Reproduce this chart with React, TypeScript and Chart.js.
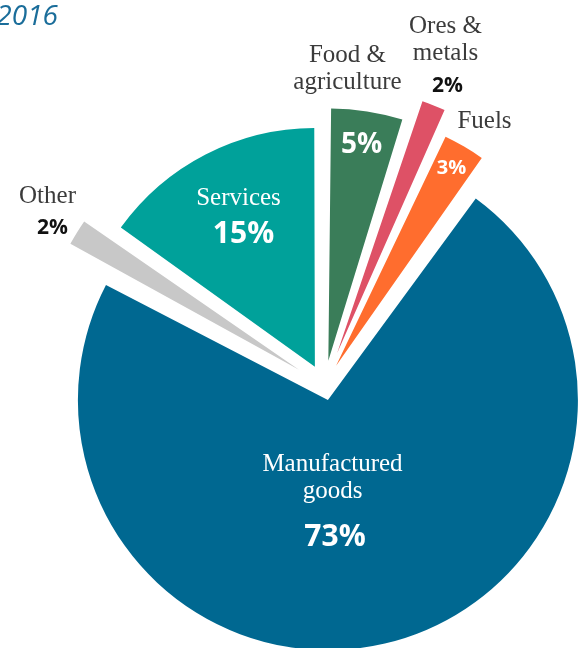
import React, { useEffect, useRef } from "react";
import { Chart, registerables } from "chart.js";

Chart.register(...registerables);

// ---- data ----
const title = "2016";
const categories = [
  "Food &\nagriculture",
  "Ores &\nmetals",
  "Fuels",
  "Manufactured\ngoods",
  "Other",
  "Services",
];
const shares = [4.9, 2.0, 3.0, 72.7, 2.1, 15.1];
const colors = ["#3a7d59", "#de5166", "#ff6d2e", "#006891", "#c8c8c8", "#00a19a"];
const explode = [100, 140, 92, 60, 120, 84];

// ---- label layout (relative to pie centre) ----
const DARK = "#3b3b3b";
const WHITE = "#ffffff";
const BLACK = "#111111";
const labelLayout = [
  { nx: 23, ny: -324, nameColor: DARK, px: 37, py: -233, pctColor: WHITE, pctSize: 28 },
  { nx: 121, ny: -353, nameColor: DARK, px: 123, py: -294, pctColor: BLACK, pctSize: 21 },
  { nx: 160, ny: -258, nameColor: DARK, px: 127, py: -212, pctColor: WHITE, pctSize: 20 },
  { nx: 8, ny: 85, nameColor: WHITE, px: 10.5, py: 160, pctColor: WHITE, pctSize: 30 },
  { nx: -277, ny: -183, nameColor: DARK, px: -272, py: -152, pctColor: BLACK, pctSize: 21 },
  { nx: -86, ny: -181, nameColor: WHITE, px: -81, py: -143, pctColor: WHITE, pctSize: 30 },
];

const SERIF = '"Liberation Serif", "Times New Roman", serif';
const SANS = '"Open Sans", "Noto Sans", sans-serif';

const labelPlugin = {
  id: "sliceLabels",
  afterDatasetsDraw(chart: any) {
    const ctx = chart.ctx as CanvasRenderingContext2D;
    const meta = chart.getDatasetMeta(0);
    if (!meta.data.length) return;
    const cx = meta.data[0].x;
    const cy = meta.data[0].y;
    ctx.save();
    ctx.textAlign = "center";
    ctx.textBaseline = "alphabetic";
    categories.forEach((name, i) => {
      const L = labelLayout[i];
      ctx.font = `25px ${SERIF}`;
      ctx.fillStyle = L.nameColor;
      name.split("\n").forEach((line, k) => {
        ctx.fillText(line, cx + L.nx, cy + L.ny + k * 27);
      });
      ctx.font = `bold ${L.pctSize}px ${SANS}`;
      ctx.fillStyle = L.pctColor;
      ctx.fillText(`${Math.round(shares[i])}%`, cx + L.px, cy + L.py);
    });
    // title
    ctx.textAlign = "right";
    ctx.font = `italic 28px ${SANS}`;
    ctx.fillStyle = "#1a6d9a";
    ctx.fillText(title, 58, 25);
    ctx.restore();
  },
};

export default function App() {
  const ref = useRef<HTMLCanvasElement | null>(null);
  useEffect(() => {
    if (!ref.current) return;
    const chart = new Chart(ref.current, {
      type: "pie",
      data: {
        labels: categories.map((c) => c.replace("\n", " ")),
        datasets: [
          {
            data: shares,
            backgroundColor: colors,
            borderWidth: 0,
            offset: explode,
            radius: 235,
            clip: false,
          } as any,
        ],
      },
      options: {
        responsive: false,
        animation: false,
        rotation: 0,
        layout: { padding: { left: 70, top: 123, right: 0, bottom: 0 } },
        plugins: {
          legend: { display: false },
          tooltip: { enabled: false },
          title: { display: false },
        },
        events: [],
      } as any,
      plugins: [labelPlugin],
    });
    return () => chart.destroy();
  }, []);
  return (
    <div style={{ position: "absolute", left: 0, top: 0, width: 579, height: 648, background: "#fff" }}>
      <canvas ref={ref} width={579} height={648} />
    </div>
  );
}
